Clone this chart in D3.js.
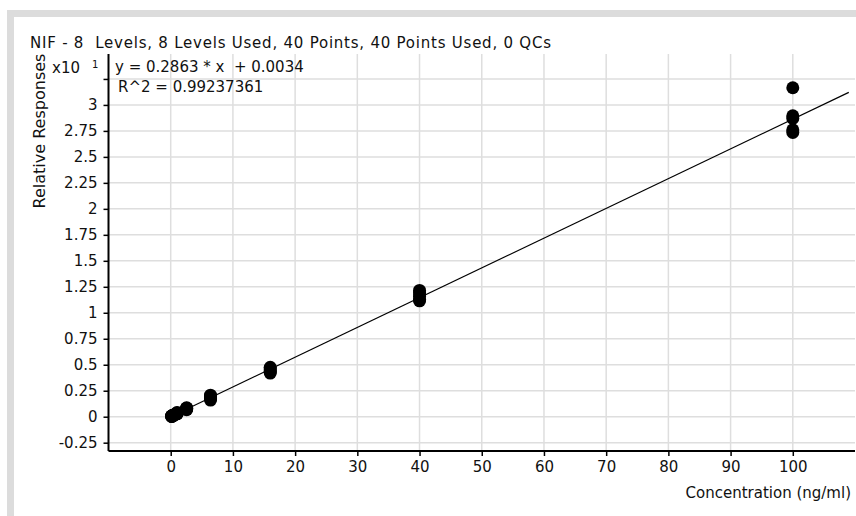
<!DOCTYPE html>
<html lang="en">
<head>
  <meta charset="UTF-8">
  <title>NIF calibration</title>
  <style>
    body { margin: 0; background: #fff; }
    text { font-family: "DejaVu Sans", sans-serif; fill: #111; }
    .grid line { stroke: #dedede; stroke-width: 1.5px; }
  </style>
</head>
<body>
  <div id="chart"></div>
  <script src="https://cdn.jsdelivr.net/npm/d3@7"></script>
  <script>
    // concentration levels (ng/ml), 5 replicates each
    const levels = [0.16, 0.41, 1.02, 2.56, 6.4, 16, 40, 100];
    // relative responses (x10^1)
    const responses = [
      [0.003, 0.005, 0.006, 0.004, 0.008],
      [0.010, 0.013, 0.015, 0.012, 0.017],
      [0.028, 0.033, 0.036, 0.030, 0.040],
      [0.068, 0.074, 0.078, 0.082, 0.085],
      [0.160, 0.172, 0.183, 0.195, 0.207],
      [0.420, 0.432, 0.445, 0.458, 0.475],
      [1.115, 1.130, 1.160, 1.190, 1.215],
      [2.735, 2.760, 2.870, 2.895, 3.165]
    ];
    const xTicks = [0, 10, 20, 30, 40, 50, 60, 70, 80, 90, 100];
    const yTicks = [-0.25, 0, 0.25, 0.5, 0.75, 1, 1.25, 1.5, 1.75, 2, 2.25, 2.5, 2.75, 3, 3.25];
    const slope = 0.2863, intercept = 0.0034;
    const fitRange = [0, 109];

    const W = 856, H = 516;
    const svg = d3.select("#chart").append("svg")
      .attr("width", W)
      .attr("height", H);

    // grey frame (top and left only)
    svg.append("rect").attr("x", 7).attr("y", 10).attr("width", W - 7).attr("height", H - 10).attr("fill", "#dcdcdc");
    svg.append("rect").attr("x", 14).attr("y", 17).attr("width", W - 14).attr("height", H - 17).attr("fill", "#fff");

    const x = d3.scaleLinear().domain([-10, 110]).range([108.5, 855]);
    const y = d3.scaleLinear().domain([-0.33, 3.49]).range([451, 54]);

    // grid
    const grid = svg.append("g").attr("class", "grid");
    grid.selectAll(".v").data(xTicks).enter().append("line")
      .attr("x1", d => x(d)).attr("x2", d => x(d))
      .attr("y1", y.range()[0]).attr("y2", y.range()[1]);
    grid.selectAll(".h").data(yTicks).enter().append("line")
      .attr("x1", x.range()[0]).attr("x2", x.range()[1])
      .attr("y1", d => y(d)).attr("y2", d => y(d));

    // axes
    const xAxis = svg.append("g")
      .attr("transform", `translate(0, ${y.range()[0]})`)
      .call(d3.axisBottom(x).tickValues(xTicks).tickSize(5).tickPadding(5));
    const yAxis = svg.append("g")
      .attr("transform", `translate(${x.range()[0]}, 0)`)
      .call(d3.axisLeft(y).tickValues(yTicks).tickSize(5).tickPadding(6)
        .tickFormat(d => d === 3.25 ? "" : String(d)));
    [xAxis, yAxis].forEach(a => {
      a.select(".domain").attr("stroke", "#000").attr("stroke-width", 2);
      a.selectAll(".tick line").attr("stroke", "#000").attr("stroke-width", 1.5);
      a.selectAll(".tick text").style("font-family", "DejaVu Sans").style("font-size", "15px").attr("fill", "#111");
    });
    xAxis.select(".domain").attr("d", `M${x.range()[0]},0H${x.range()[1]}`);
    yAxis.select(".domain").attr("d", `M0,${y.range()[0]}V${y.range()[1]}`);

    // regression line
    svg.append("line")
      .attr("x1", x(fitRange[0])).attr("y1", y(slope * fitRange[0] / 10 + intercept / 10))
      .attr("x2", x(fitRange[1])).attr("y2", y(slope * fitRange[1] / 10 + intercept / 10))
      .attr("stroke", "#000").attr("stroke-width", 1.2);

    // points
    const pts = [];
    levels.forEach((c, i) => responses[i].forEach(r => pts.push({ c, r })));
    svg.selectAll(".pt").data(pts).enter().append("circle")
      .attr("cx", d => x(d.c)).attr("cy", d => y(d.r))
      .attr("r", 6.5).attr("fill", "#000");

    // texts
    svg.append("text").attr("x", 30).attr("y", 48).style("font-size", "15px")
      .style("white-space", "pre")
      .attr("textLength", 521).attr("lengthAdjust", "spacing")
      .text("NIF - 8  Levels, 8 Levels Used, 40 Points, 40 Points Used, 0 QCs");
    svg.append("text").attr("x", 115).attr("y", 72).style("font-size", "15px")
      .style("white-space", "pre")
      .text("y = 0.2863 * x  + 0.0034");
    svg.append("text").attr("x", 118).attr("y", 92).style("font-size", "15px")
      .text("R^2 = 0.99237361");
    svg.append("text").attr("x", 52).attr("y", 73).style("font-size", "15px").text("x10");
    svg.append("text").attr("x", 92).attr("y", 68).style("font-size", "10px").attr("fill", "#777").text("1");
    svg.append("text").attr("text-anchor", "middle")
      .attr("transform", "translate(44.5, 131) rotate(-90)")
      .style("font-size", "16px").text("Relative Responses");
    svg.append("text").attr("text-anchor", "end").attr("x", 851).attr("y", 498)
      .style("font-size", "15px").text("Concentration (ng/ml)");
  </script>
</body>
</html>
